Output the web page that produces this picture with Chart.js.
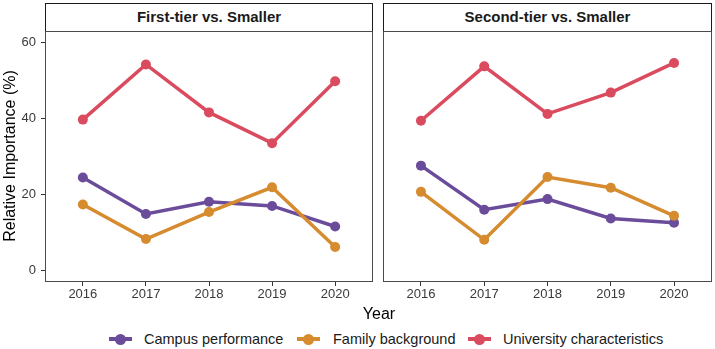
<!DOCTYPE html>
<html>
<head>
<meta charset="utf-8">
<script src="https://cdn.jsdelivr.net/npm/chart.js@4"></script>
<style>
  body { margin: 0; background: #fff; font-family: "Liberation Sans", Arial, sans-serif; }
  #wrap { position: relative; width: 715px; height: 349px; overflow: hidden; }
  .strip { position: absolute; top: 3px; height: 29px; box-sizing: border-box; border: 1px solid #1a1a1a;
           background: #fff; text-align: center; font-weight: bold; font-size: 15px; line-height: 26px; color: #1a1a1a; }
  .panel { position: absolute; top: 31px; }
  .ytitle { position: absolute; left: -115px; top: 146px; width: 250px; text-align: center; font-size: 16px;
            line-height: 20px; color: #000; transform: rotate(-90deg); }
  .xtitle { position: absolute; left: 329px; top: 304px; width: 100px; text-align: center; font-size: 16px; line-height: 20px; color: #000; }
  .key { position: absolute; top: 339px; width: 23px; height: 0; }
  .key .ln { position: absolute; left: 0; top: -2px; width: 23px; height: 4px; }
  .key .pt { position: absolute; left: 6px; top: -5px; width: 11px; height: 11px; border-radius: 50%; }
  .ltext { position: absolute; top: 330px; font-size: 14.5px; line-height: 18px; color: #1a1a1a; white-space: nowrap; }
</style>
</head>
<body>
<div id="wrap">
  <div class="strip" style="left:45px;width:328px;" id="strip1"></div>
  <div class="strip" style="left:383px;width:329px;" id="strip2"></div>
  <canvas class="panel" id="c1" width="376" height="275" style="left:0px"></canvas>
  <canvas class="panel" id="c2" width="329" height="275" style="left:383px"></canvas>
  <div class="ytitle">Relative Importance (%)</div>
  <div class="xtitle">Year</div>
  <div id="legend"></div>
</div>
<script>
  // data
  const years = [2016, 2017, 2018, 2019, 2020];
  const panelTitles = ['First-tier vs. Smaller', 'Second-tier vs. Smaller'];
  const seriesNames = ['Campus performance', 'Family background', 'University characteristics'];
  const seriesColors = ['#6b4c9a', '#d68b2f', '#db4b5f'];

  const campusFirst = [24.5, 14.9, 18.1, 17.0, 11.6];
  const familyFirst = [17.4, 8.3, 15.4, 21.9, 6.2];
  const univFirst = [39.7, 54.2, 41.6, 33.5, 49.8];

  const campusSecond = [27.6, 16.0, 18.8, 13.7, 12.6];
  const familySecond = [20.7, 8.1, 24.6, 21.8, 14.4];
  const univSecond = [39.4, 53.7, 41.2, 46.8, 54.6];

  const yTicks = [0, 20, 40, 60];

  const FONT = '"Liberation Sans", Arial, sans-serif';

  document.getElementById('strip1').textContent = panelTitles[0];
  document.getElementById('strip2').textContent = panelTitles[1];

  // legend
  const legend = document.getElementById('legend');
  const keyX = [109, 297, 468];
  const textX = [144, 333, 503];
  seriesNames.forEach((name, i) => {
    legend.innerHTML += '<div class="key" style="left:' + keyX[i] + 'px"><div class="ln" style="background:' + seriesColors[i] +
      '"></div><div class="pt" style="background:' + seriesColors[i] + '"></div></div>' +
      '<div class="ltext" style="left:' + textX[i] + 'px">' + name + '</div>';
  });

  const panelBorder = {
    id: 'panelBorder',
    afterDraw(chart) {
      const a = chart.chartArea;
      const ctx = chart.ctx;
      ctx.save();
      ctx.strokeStyle = '#4a4a4a';
      ctx.lineWidth = 1;
      ctx.strokeRect(a.left + 0.5, a.top + 0.5, a.right - a.left - 1, a.bottom - a.top - 1);
      ctx.restore();
    }
  };

  function toPoints(vals) {
    return years.map((y, i) => ({ x: y, y: vals[i] }));
  }

  function noPad(s) {
    s.paddingTop = 0;
    s.paddingBottom = 0;
    s.paddingLeft = 0;
    s.paddingRight = 0;
  }

  function makePanel(id, campus, family, univ, showY, padRight) {
    const lists = [campus, family, univ];
    new Chart(document.getElementById(id), {
      type: 'line',
      data: {
        datasets: lists.map((vals, i) => ({
          label: seriesNames[i],
          data: toPoints(vals),
          borderColor: seriesColors[i],
          backgroundColor: seriesColors[i],
          borderWidth: 3.5,
          pointRadius: 5,
          pointBorderWidth: 0,
          pointHoverRadius: 5,
          tension: 0,
          order: 2 - i
        }))
      },
      options: {
        responsive: false,
        animation: false,
        layout: { autoPadding: false, padding: { top: 0, right: padRight, left: 0, bottom: 0 } },
        plugins: { legend: { display: false }, tooltip: { enabled: false } },
        scales: {
          x: {
            type: 'linear',
            min: 2015.4,
            max: 2020.6,
            afterBuildTicks: s => { s.ticks = years.map(v => ({ value: v })); },
            afterFit: s => { s.height = 24; noPad(s); },
            ticks: {
              callback: v => String(v),
              color: '#3a3a3a',
              font: { family: FONT, size: 13 },
              padding: 1,
              maxRotation: 0,
              autoSkip: false
            },
            grid: { display: true, drawOnChartArea: false, tickLength: 4, color: '#333', lineWidth: 1 },
            border: { display: false }
          },
          y: {
            display: showY,
            min: -3,
            max: 63,
            afterBuildTicks: s => { s.ticks = yTicks.map(v => ({ value: v })); },
            afterFit: s => { s.width = showY ? 45 : 0; noPad(s); },
            ticks: {
              callback: v => String(v),
              color: '#3a3a3a',
              font: { family: FONT, size: 13 },
              padding: 5
            },
            grid: { display: true, drawOnChartArea: false, tickLength: 4, color: '#333', lineWidth: 1 },
            border: { display: false }
          }
        }
      },
      plugins: [panelBorder]
    });
  }

  makePanel('c1', campusFirst, familyFirst, univFirst, true, 3);
  makePanel('c2', campusSecond, familySecond, univSecond, false, 0);
</script>
</body>
</html>
